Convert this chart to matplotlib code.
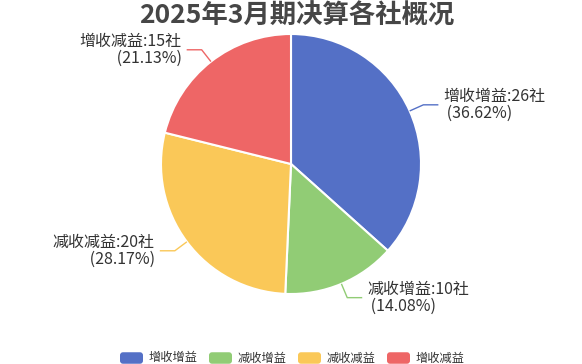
import matplotlib

matplotlib.use("Agg")
import matplotlib.pyplot as plt
import numpy as np
from matplotlib.patches import FancyBboxPatch

plt.rcParams["font.family"] = ["Noto Sans CJK SC", "DejaVu Sans"]

W, H = 582, 364

title = "2025年3月期决算各社概况"
categories = ["增收增益", "减收增益", "减收减益", "增收减益"]
counts = [26, 10, 20, 15]
colors = ["#5470c6", "#91cc75", "#fac858", "#ee6666"]

text_color = "#333333"
title_color = "#464646"

fig = plt.figure(figsize=(W / 100, H / 100), dpi=100, facecolor="white")
ax = fig.add_axes([0, 0, 1, 1])

cx, cy, radius = 291, H - 164, 130
wedges, _ = ax.pie(
    counts,
    colors=colors,
    startangle=90,
    counterclock=False,
    radius=radius,
    center=(cx, cy),
    wedgeprops=dict(edgecolor="white", linewidth=1.5),
)
ax.set_xlim(0, W)
ax.set_ylim(0, H)
ax.set_aspect("equal")
ax.axis("off")

total = sum(counts)
for wedge, name, value, color in zip(wedges, categories, counts, colors):
    ang = np.deg2rad((wedge.theta1 + wedge.theta2) / 2.0)
    ux, uy = np.cos(ang), np.sin(ang)
    x0, y0 = cx + radius * ux, cy + radius * uy
    x1, y1 = cx + (radius + 15) * ux, cy + (radius + 15) * uy
    side = 1 if ux >= 0 else -1
    x2 = x1 + side * 15
    ax.plot([x0, x1, x2], [y0, y1, y1], color=color, linewidth=1, solid_capstyle="butt")
    label = f"{name}:{value}社\n ({value / total * 100:.2f}%)"
    ha = "left" if side > 0 else "right"
    ax.text(x2 + side * 5, y1, label, ha=ha, va="center", multialignment=ha,
            fontsize=11.5, color=text_color, linespacing=1.0)

ax.text(W / 2 + 6, H - 16, title, ha="center", va="center", fontsize=19,
        fontweight="bold", color=title_color)

# legend along the bottom
item_w, item_h = 23, 11.5
leg_y = H - 358
leg_x0, leg_step = 120, 89
for i, (name, color) in enumerate(zip(categories, colors)):
    x = leg_x0 + i * leg_step
    ax.add_patch(FancyBboxPatch((x, leg_y - item_h / 2), item_w, item_h,
                                boxstyle="round,pad=0,rounding_size=3",
                                facecolor=color, edgecolor="none"))
    ax.text(x + item_w + 6, leg_y, name, ha="left", va="center",
            fontsize=8.8, color=text_color)

fig.savefig("out.png", dpi=100, facecolor="white")
